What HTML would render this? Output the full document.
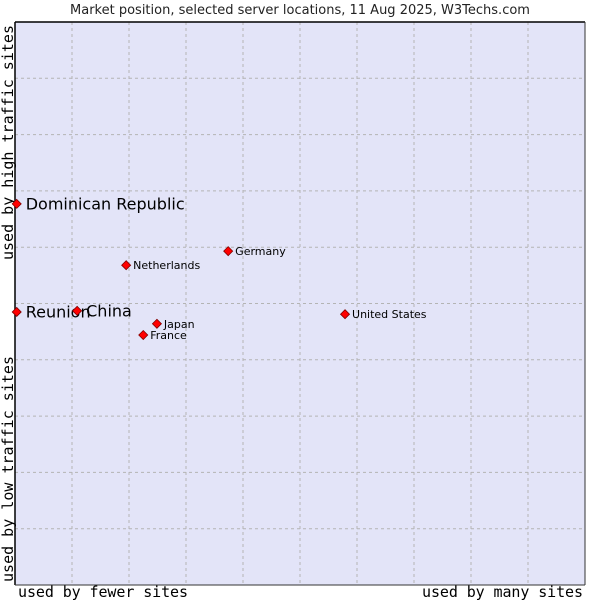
<!DOCTYPE html>
<html><head><meta charset="utf-8"><style>
body{margin:0;background:#fff;width:600px;height:600px;overflow:hidden}
svg text{font-family:"DejaVu Sans","Liberation Sans",sans-serif}
.mono{font-family:'DejaVu Sans Mono','Liberation Mono',monospace}
</style></head><body>
<svg id="chart" width="600" height="600">
<text x="300" y="14" text-anchor="middle" font-size="13" fill="#222">Market position, selected server locations, 11 Aug 2025, W3Techs.com</text>
<rect x="15" y="22" width="570" height="563" fill="#e3e4f8" stroke="none"/>
<g id="grid"></g>
<line x1="15" y1="22" x2="585" y2="22" stroke="#000" stroke-width="1.5"/>
<line x1="15" y1="22" x2="15" y2="585" stroke="#000" stroke-width="1.5"/>
<line x1="585" y1="22" x2="585" y2="585" stroke="#333" stroke-width="1"/>
<line x1="15" y1="585" x2="585" y2="585" stroke="#333" stroke-width="1"/>
<text class="mono" x="18" y="597" font-size="15" fill="#000" textLength="170" style="font-family:'DejaVu Sans Mono','Liberation Mono',monospace">used by fewer sites</text>
<text class="mono" x="583" y="597" text-anchor="end" font-size="15" fill="#000" textLength="161" style="font-family:'DejaVu Sans Mono','Liberation Mono',monospace">used by many sites</text>
<text class="mono" transform="translate(13,582) rotate(-90)" font-size="15" fill="#000" textLength="226" style="font-family:'DejaVu Sans Mono','Liberation Mono',monospace">used by low traffic sites</text>
<text class="mono" transform="translate(13,260) rotate(-90)" font-size="15" fill="#000" textLength="235" style="font-family:'DejaVu Sans Mono','Liberation Mono',monospace">used by high traffic sites</text>
<g id="points"></g>
</svg>
<script>
const names = ["Dominican Republic","Reunion","China","Netherlands","Germany","United States","Japan","France"];
const xValues = [0.3,0.3,10.9,19.5,37.4,57.9,24.9,22.5];
const yValues = [67.7,48.5,48.7,56.8,59.3,48.1,46.4,44.4];
const bigLabel = [true,true,true,false,false,false,false,false];
const NS="http://www.w3.org/2000/svg";
const L=15,R=585,T=22,B=585;
const sx=v=>L+v/100*(R-L), sy=v=>B-v/100*(B-T);
const grid=document.getElementById('grid');
for(let i=1;i<10;i++){
  const gx=document.createElementNS(NS,'line');
  gx.setAttribute('x1',L+i*57);gx.setAttribute('x2',L+i*57);gx.setAttribute('y1',T);gx.setAttribute('y2',B);
  gx.setAttribute('stroke','#b4b4b4');gx.setAttribute('stroke-dasharray','3,3');
  
  
  grid.appendChild(gx);
  const gy=document.createElementNS(NS,'line');
  const yy=T+i*(B-T)/10;
  gy.setAttribute('y1',yy);gy.setAttribute('y2',yy);gy.setAttribute('x1',L);gy.setAttribute('x2',R);
  gy.setAttribute('stroke','#b4b4b4');gy.setAttribute('stroke-dasharray','3,3');
  
  
  grid.appendChild(gy);
}
const pts=document.getElementById('points');
names.forEach((n,i)=>{
  const x=sx(xValues[i]), y=sy(yValues[i]);
  const p=document.createElementNS(NS,'polygon');
  p.setAttribute('points',`${x},${y-4.5} ${x+4.5},${y} ${x},${y+4.5} ${x-4.5},${y}`);
  p.setAttribute('fill','#ff0000');p.setAttribute('stroke','#800000');p.setAttribute('stroke-width','0.8');
  
  
  pts.appendChild(p);
  const t=document.createElementNS(NS,'text');
  t.setAttribute('x',x+(bigLabel[i]?9:7));
  t.setAttribute('y',y+(bigLabel[i]?5.5:4));
  t.setAttribute('font-size',bigLabel[i]?16:11);
  t.setAttribute('fill','#000');
  t.textContent=n;
  
  
  pts.appendChild(t);
});
</script>
</body></html>
